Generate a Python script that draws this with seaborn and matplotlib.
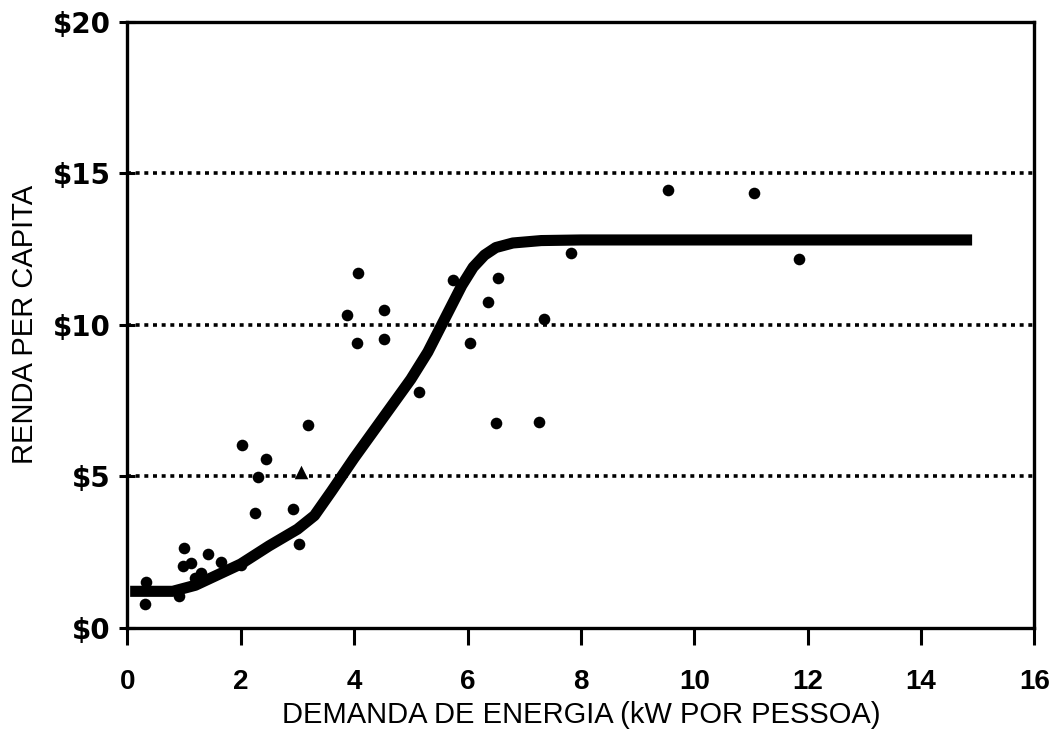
import matplotlib
matplotlib.use("Agg")
import matplotlib.pyplot as plt
import seaborn as sns
import pandas as pd

# Country observations: energy demand (kW per person) vs per-capita income
energy_kw = [0.33, 0.31, 0.92, 0.99, 1.00, 1.13, 1.20, 1.30, 1.42, 1.65,
             2.00, 2.03, 2.25, 2.31, 2.45, 2.93, 3.02, 3.19, 3.87, 4.05,
             4.06, 4.53, 4.53, 5.14, 5.75, 6.04, 6.36, 6.51, 6.53, 7.26,
             7.35, 7.83, 9.54, 11.06, 11.85]
income = [1.50, 0.78, 1.05, 2.05, 2.64, 2.15, 1.65, 1.80, 2.44, 2.18,
          2.08, 6.04, 3.80, 4.98, 5.58, 3.93, 2.77, 6.70, 10.33, 9.40,
          11.70, 10.50, 9.54, 7.79, 11.49, 9.40, 10.76, 6.77, 11.55, 6.80,
          10.20, 12.37, 14.46, 14.36, 12.18]

# Single observation plotted with a triangle symbol
tri_energy = [3.06]
tri_income = [5.15]

# Fitted trend curve
curve_x = [0.05, 0.8, 1.2, 1.6, 2.0, 2.5, 3.0, 3.3, 3.6, 4.0, 4.5, 5.0,
           5.3, 5.6, 5.9, 6.1, 6.3, 6.5, 6.8, 7.3, 8.0, 10.0, 12.0, 14.9]
curve_y = [1.2, 1.2, 1.4, 1.75, 2.1, 2.7, 3.25, 3.7, 4.5, 5.6, 6.9, 8.2,
           9.1, 10.2, 11.3, 11.9, 12.3, 12.55, 12.7, 12.78, 12.8, 12.8,
           12.8, 12.8]

x_ticks = [0, 2, 4, 6, 8, 10, 12, 14, 16]
y_ticks = [0, 5, 10, 15, 20]
y_tick_labels = ["$0", "$5", "$10", "$15", "$20"]
grid_levels = [5, 10, 15]

x_label = "DEMANDA DE ENERGIA (kW POR PESSOA)"
y_label = "RENDA PER CAPITA"

sns.set_theme(style="white")
plt.rcParams["font.family"] = ["Liberation Sans", "DejaVu Sans"]

pts = pd.DataFrame({"energia": energy_kw, "renda": income})
tri = pd.DataFrame({"energia": tri_energy, "renda": tri_income})
curve = pd.DataFrame({"energia": curve_x, "renda": curve_y})

fig = plt.figure(figsize=(10.61, 7.29), dpi=100)
ax = fig.add_axes([0.120, 0.139, 0.855, 0.831])

for lvl in grid_levels:
    ax.axhline(lvl, color="black", linewidth=2.6, linestyle=(0, (1.1, 1.3)),
               zorder=1)

sns.lineplot(data=curve, x="energia", y="renda", ax=ax, color="black",
             linewidth=8, solid_capstyle="butt", solid_joinstyle="round",
             sort=False, zorder=3)
sns.scatterplot(data=pts, x="energia", y="renda", ax=ax, color="black",
                s=70, marker="o", edgecolor="black", linewidth=0, zorder=4)
sns.scatterplot(data=tri, x="energia", y="renda", ax=ax, color="black",
                s=95, marker="^", edgecolor="black", linewidth=0, zorder=4)

ax.set_xlim(0, 16)
ax.set_ylim(0, 20)
ax.set_xticks(x_ticks)
ax.set_xticklabels([str(t) for t in x_ticks], fontsize=20, fontweight="bold")
ax.set_yticks(y_ticks)
ax.set_yticklabels(y_tick_labels, fontsize=20, fontweight="bold",
                   family=["DejaVu Sans"])

ax.tick_params(axis="x", direction="out", length=12, width=2.2, pad=18,
               colors="black", bottom=True)
ax.tick_params(axis="y", direction="inout", length=12, width=2.2, pad=6,
               colors="black", left=True)

for side in ["left", "right", "top", "bottom"]:
    ax.spines[side].set_visible(True)
    ax.spines[side].set_color("black")
    ax.spines[side].set_linewidth(2.4)

ax.set_xlabel(x_label, fontsize=21, color="black", labelpad=4)
ax.set_ylabel(y_label, fontsize=21, color="black", labelpad=10)
ax.grid(False)

fig.savefig("out.png", dpi=100, facecolor="white")
